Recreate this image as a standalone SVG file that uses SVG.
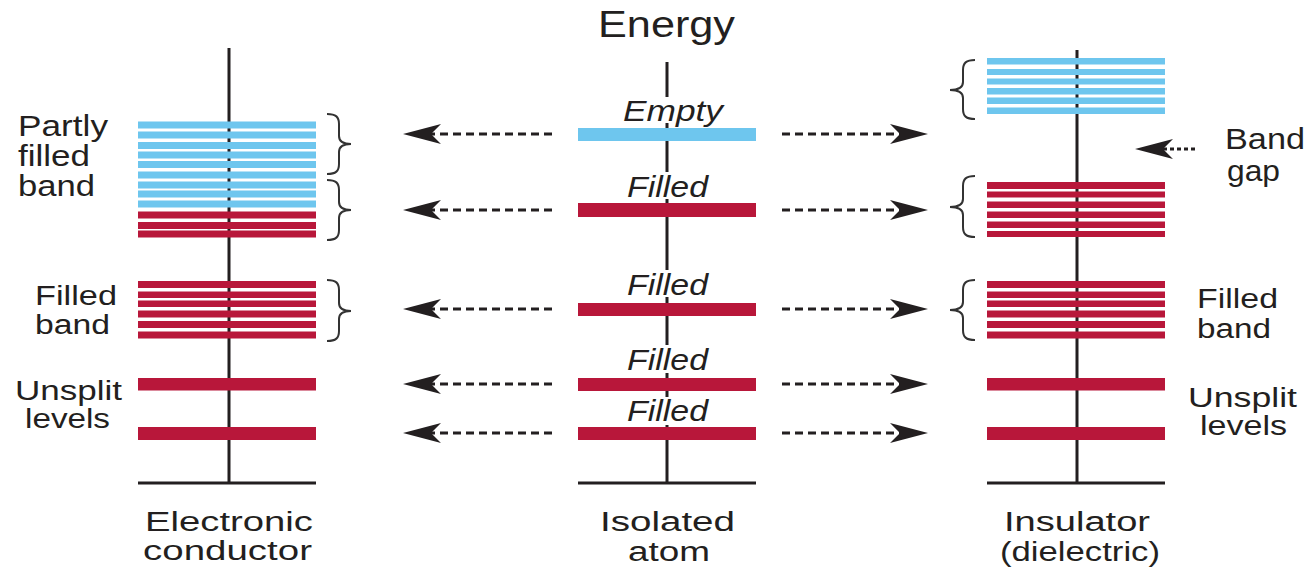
<svg xmlns="http://www.w3.org/2000/svg" width="1309" height="571" viewBox="0 0 1309 571">
<style>
.t{font-family:"Liberation Sans",Arial,sans-serif;fill:#231f20;}
.s{font-size:29px;}
.b{font-size:27px;}
.c{font-size:27px;}
.i{font-size:29px;font-style:italic;}
.ax{stroke:#231f20;stroke-width:3;fill:none;}
.bl{fill:#6ec6ee;}
.rd{fill:#b8173a;}
.br{stroke:#333;stroke-width:2;fill:none;}
.ar{stroke:#231f20;stroke-width:3;stroke-dasharray:8 5;fill:none;marker-end:url(#ah);}
.ar2{stroke:#231f20;stroke-width:3;stroke-dasharray:4 3;fill:none;marker-end:url(#ah);}
</style>
<defs>
<marker id="ah" viewBox="0 0 40 24" refX="12" refY="12" markerWidth="40" markerHeight="24" markerUnits="userSpaceOnUse" orient="auto">
<path d="M40,12 L2,2 L12,12 L2,22 Z" fill="#231f20"/>
</marker>
</defs>
<rect width="1309" height="571" fill="#ffffff"/>
<text class="t" x="598" y="37" font-size="36" textLength="137" lengthAdjust="spacingAndGlyphs">Energy</text>

<g id="conductor">
<line class="ax" x1="229" y1="48" x2="229" y2="483"/>
<line class="ax" x1="138" y1="483" x2="316" y2="483"/>
<rect class="bl" x="138" y="121.5" width="178" height="7"/>
<rect class="bl" x="138" y="131.5" width="178" height="7"/>
<rect class="bl" x="138" y="142" width="178" height="7"/>
<rect class="bl" x="138" y="151.5" width="178" height="7"/>
<rect class="bl" x="138" y="161" width="178" height="7"/>
<rect class="bl" x="138" y="171.5" width="178" height="7"/>
<rect class="bl" x="138" y="181.5" width="178" height="7"/>
<rect class="bl" x="138" y="190.5" width="178" height="7"/>
<rect class="bl" x="138" y="200.5" width="178" height="7"/>
<rect class="rd" x="138" y="211.5" width="178" height="7"/>
<rect class="rd" x="138" y="222" width="178" height="7"/>
<rect class="rd" x="138" y="230.5" width="178" height="7"/>
<rect class="rd" x="138" y="281" width="178" height="7"/>
<rect class="rd" x="138" y="291.5" width="178" height="6.5"/>
<rect class="rd" x="138" y="300.5" width="178" height="6.5"/>
<rect class="rd" x="138" y="310.5" width="178" height="7"/>
<rect class="rd" x="138" y="321" width="178" height="7"/>
<rect class="rd" x="138" y="331.5" width="178" height="7"/>
<rect class="rd" x="138" y="378" width="178" height="12.5"/>
<rect class="rd" x="138" y="427" width="178" height="13"/>
<path class="br" d="M327,114 C336,114 339,117 339,124 L339,136 C339,141 342,144 351,144 C342,144 339,147 339,152 L339,164 C339,171 336,174 327,174"/>
<path class="br" d="M327,180 C336,180 339,183 339,190 L339,202 C339,207 342,210 351,210 C342,210 339,213 339,218 L339,230 C339,237 336,240 327,240"/>
<path class="br" d="M327,280 C336,280 339,283 339,290 L339,303 C339,308 342,311 351,311 C342,311 339,314 339,319 L339,331 C339,338 336,341 327,341"/>
<text class="t s" x="18" y="136" textLength="90" lengthAdjust="spacingAndGlyphs">Partly</text>
<text class="t s" x="18" y="166" textLength="72" lengthAdjust="spacingAndGlyphs">filled</text>
<text class="t s" x="18" y="196" textLength="77" lengthAdjust="spacingAndGlyphs">band</text>
<text class="t b" x="35" y="305" textLength="82" lengthAdjust="spacingAndGlyphs">Filled</text>
<text class="t b" x="35" y="334" textLength="75" lengthAdjust="spacingAndGlyphs">band</text>
<text class="t b" x="15" y="400" textLength="107" lengthAdjust="spacingAndGlyphs">Unsplit</text>
<text class="t b" x="25" y="428" textLength="85" lengthAdjust="spacingAndGlyphs">levels</text>
<text class="t c" x="145" y="531" textLength="168" lengthAdjust="spacingAndGlyphs">Electronic</text>
<text class="t c" x="143" y="560" textLength="169" lengthAdjust="spacingAndGlyphs">conductor</text>
</g>

<g id="atom">
<path class="ax" d="M667,62 V97 M667,123 V172 M667,199 V270 M667,297 V345 M667,373 V397 M667,425 V483"/>
<line class="ax" x1="578" y1="483" x2="756" y2="483"/>
<rect class="bl" x="578" y="128" width="178" height="13"/>
<rect class="rd" x="578" y="203" width="178" height="14"/>
<rect class="rd" x="578" y="303" width="178" height="13"/>
<rect class="rd" x="578" y="378" width="178" height="13"/>
<rect class="rd" x="578" y="427" width="178" height="13"/>
<text class="t i" x="623" y="121" textLength="100" lengthAdjust="spacingAndGlyphs">Empty</text>
<text class="t i" x="627" y="197" textLength="81" lengthAdjust="spacingAndGlyphs">Filled</text>
<text class="t i" x="627" y="295" textLength="81" lengthAdjust="spacingAndGlyphs">Filled</text>
<text class="t i" x="627" y="370" textLength="81" lengthAdjust="spacingAndGlyphs">Filled</text>
<text class="t i" x="627" y="421" textLength="81" lengthAdjust="spacingAndGlyphs">Filled</text>
<text class="t c" x="600" y="531" textLength="135" lengthAdjust="spacingAndGlyphs">Isolated</text>
<text class="t c" x="628" y="561" textLength="82" lengthAdjust="spacingAndGlyphs">atom</text>
</g>

<g id="insulator">
<line class="ax" x1="1077" y1="50" x2="1077" y2="483"/>
<line class="ax" x1="987" y1="483" x2="1165" y2="483"/>
<rect class="bl" x="987" y="58" width="178" height="6.5"/>
<rect class="bl" x="987" y="69" width="178" height="6"/>
<rect class="bl" x="987" y="78.5" width="178" height="6"/>
<rect class="bl" x="987" y="88" width="178" height="6.5"/>
<rect class="bl" x="987" y="97.5" width="178" height="6.5"/>
<rect class="bl" x="987" y="107.5" width="178" height="6.5"/>
<rect class="rd" x="987" y="182" width="178" height="7"/>
<rect class="rd" x="987" y="191.5" width="178" height="6"/>
<rect class="rd" x="987" y="201.5" width="178" height="6.5"/>
<rect class="rd" x="987" y="211.5" width="178" height="6.5"/>
<rect class="rd" x="987" y="221.5" width="178" height="6.5"/>
<rect class="rd" x="987" y="231" width="178" height="6"/>
<rect class="rd" x="987" y="281" width="178" height="7"/>
<rect class="rd" x="987" y="291.5" width="178" height="6.5"/>
<rect class="rd" x="987" y="300.5" width="178" height="6.5"/>
<rect class="rd" x="987" y="310.5" width="178" height="7"/>
<rect class="rd" x="987" y="321" width="178" height="7"/>
<rect class="rd" x="987" y="331.5" width="178" height="7"/>
<rect class="rd" x="987" y="378" width="178" height="12.5"/>
<rect class="rd" x="987" y="427" width="178" height="13"/>
<path class="br" d="M975,60 C966,60 963,63 963,70 L963,82 C963,87 960,90 950,90 C960,90 963,93 963,98 L963,109 C963,116 966,119 975,119"/>
<path class="br" d="M975,176 C966,176 963,179 963,186 L963,199 C963,204 960,207 950,207 C960,207 963,210 963,215 L963,227 C963,234 966,237 975,237"/>
<path class="br" d="M975,280 C966,280 963,283 963,290 L963,302 C963,307 960,310 950,310 C960,310 963,313 963,318 L963,330 C963,337 966,340 975,340"/>
<text class="t s" x="1225" y="149" textLength="80" lengthAdjust="spacingAndGlyphs">Band</text>
<text class="t s" x="1227" y="181" textLength="53" lengthAdjust="spacingAndGlyphs">gap</text>
<text class="t b" x="1197" y="308" textLength="81" lengthAdjust="spacingAndGlyphs">Filled</text>
<text class="t b" x="1197" y="338" textLength="74" lengthAdjust="spacingAndGlyphs">band</text>
<text class="t b" x="1188" y="407" textLength="109" lengthAdjust="spacingAndGlyphs">Unsplit</text>
<text class="t b" x="1200" y="435" textLength="87" lengthAdjust="spacingAndGlyphs">levels</text>
<text class="t c" x="1004" y="531" textLength="146" lengthAdjust="spacingAndGlyphs">Insulator</text>
<text class="t c" x="1000" y="561" textLength="160" lengthAdjust="spacingAndGlyphs">(dielectric)</text>
</g>

<g id="connectors">
<line class="ar" x1="552" y1="134" x2="431" y2="134"/>
<line class="ar" x1="552" y1="210" x2="431" y2="210"/>
<line class="ar" x1="552" y1="309" x2="431" y2="309"/>
<line class="ar" x1="552" y1="384" x2="431" y2="384"/>
<line class="ar" x1="552" y1="433" x2="431" y2="433"/>
<line class="ar" x1="782" y1="134" x2="900" y2="134"/>
<line class="ar" x1="782" y1="210" x2="900" y2="210"/>
<line class="ar" x1="782" y1="309" x2="900" y2="309"/>
<line class="ar" x1="782" y1="384" x2="900" y2="384"/>
<line class="ar" x1="782" y1="433" x2="900" y2="433"/>
<line class="ar2" x1="1195" y1="149" x2="1163" y2="149"/>
</g>
</svg>
